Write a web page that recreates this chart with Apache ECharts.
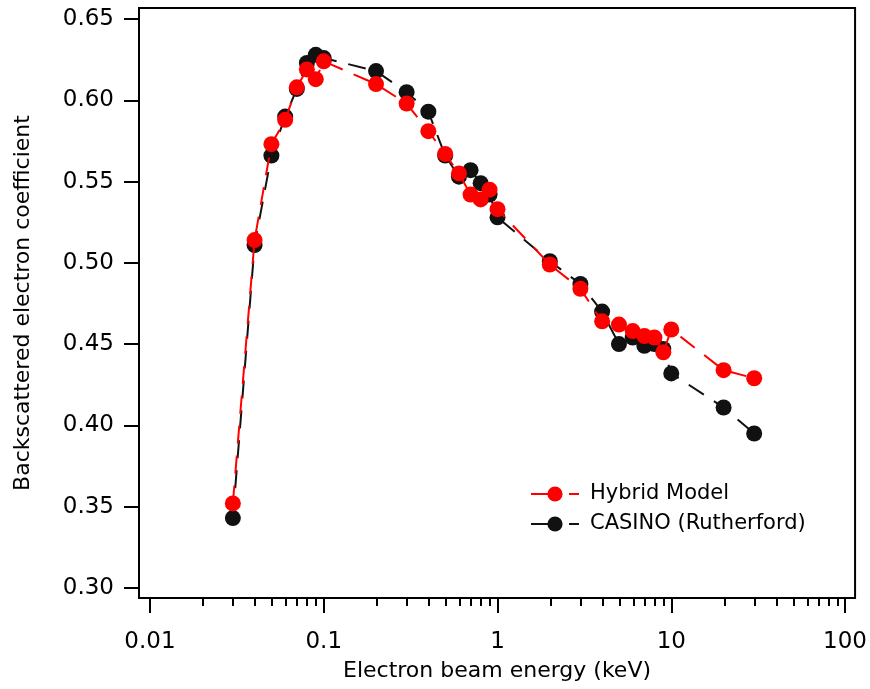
<!DOCTYPE html>
<html>
<head>
<meta charset="utf-8">
<script src="https://cdn.jsdelivr.net/npm/echarts@6/dist/echarts.min.js"></script>
<style>
  html, body { margin: 0; padding: 0; background: #fff; }
  #chart { width: 870px; height: 689px; }
</style>
</head>
<body>
<div id="chart"></div>
<script>
// Electron beam energies (keV)
const energies = [0.03, 0.04, 0.05, 0.06, 0.07, 0.08, 0.09, 0.1, 0.2, 0.3, 0.4, 0.5, 0.6, 0.7, 0.8, 0.9,
                  1, 2, 3, 4, 5, 6, 7, 8, 9, 10, 20, 30];

// Backscattered electron coefficient, hybrid model
const hybridModel = [0.352, 0.514, 0.573, 0.588, 0.608, 0.619, 0.613, 0.624, 0.610, 0.598, 0.581, 0.567,
                     0.555, 0.542, 0.539, 0.545, 0.533, 0.499, 0.484, 0.464, 0.462, 0.458, 0.455, 0.454,
                     0.445, 0.459, 0.434, 0.429];

// Backscattered electron coefficient, CASINO with Rutherford cross sections
const casinoRutherford = [0.343, 0.511, 0.566, 0.590, 0.607, 0.623, 0.628, 0.626, 0.618, 0.605, 0.593, 0.566,
                          0.553, 0.557, 0.549, 0.542, 0.528, 0.501, 0.487, 0.470, 0.450, 0.454, 0.449, 0.450,
                          0.447, 0.432, 0.411, 0.395];

// Axis ticks
const xMajorTicks = [0.01, 0.1, 1, 10, 100];
const xMinorTicks = [0.02, 0.03, 0.04, 0.05, 0.06, 0.07, 0.08, 0.09,
                     0.2, 0.3, 0.4, 0.5, 0.6, 0.7, 0.8, 0.9,
                     2, 3, 4, 5, 6, 7, 8, 9,
                     20, 30, 40, 50, 60, 70, 80, 90];
const yTicks = [0.30, 0.35, 0.40, 0.45, 0.50, 0.55, 0.60, 0.65];

const X_MIN = 0.00865, X_MAX = 114.2;
const Y_MIN = 0.2938, Y_MAX = 0.6568;
const FONT = 'DejaVu Sans';

const chart = echarts.init(document.getElementById('chart'), null, { renderer: 'canvas' });

const gridBox = { left: 139, right: 14, top: 8, bottom: 91 };

const option = {
  animation: false,
  backgroundColor: '#fff',
  textStyle: { fontFamily: FONT, color: '#000' },
  grid: [
    Object.assign({ show: true, borderColor: '#000', borderWidth: 2, backgroundColor: 'transparent', containLabel: false }, gridBox),
    Object.assign({ show: false, containLabel: false }, gridBox)
  ],
  legend: {
    orient: 'vertical',
    left: 525,
    top: 478,
    itemWidth: 48,
    itemHeight: 19,
    itemGap: 8,
    data: ['Hybrid Model', 'CASINO (Rutherford)'],
    // legend key: line, marker, short dash
    lineStyle: { type: [31, 7, 12, 2] },
    textStyle: { fontFamily: FONT, fontSize: 21, color: '#000', lineHeight: 22, padding: [0, 0, 0, 6] }
  },
  xAxis: [
    {
      type: 'log',
      gridIndex: 0,
      min: X_MIN,
      max: X_MAX,
      name: 'Electron beam energy (keV)',
      nameLocation: 'middle',
      nameGap: 62,
      nameTextStyle: { fontFamily: FONT, fontSize: 22, color: '#000' },
      axisLine: { show: true, onZero: false, lineStyle: { color: '#000', width: 2 } },
      axisTick: { show: true, inside: false, length: 15, customValues: xMajorTicks, lineStyle: { color: '#000', width: 2 } },
      axisLabel: {
        show: true, margin: 33, customValues: xMajorTicks,
        fontFamily: FONT, fontSize: 23, color: '#000',
        formatter: v => String(+(+v).toPrecision(3))
      },
      splitLine: { show: false },
      minorTick: { show: false }
    },
    {
      type: 'log',
      gridIndex: 1,
      min: X_MIN,
      max: X_MAX,
      axisLine: { show: false, onZero: false },
      axisTick: { show: true, inside: false, length: 8, customValues: xMinorTicks, lineStyle: { color: '#000', width: 2 } },
      axisLabel: { show: false },
      splitLine: { show: false }
    }
  ],
  yAxis: [
    {
      type: 'value',
      gridIndex: 0,
      min: Y_MIN,
      max: Y_MAX,
      name: 'Backscattered electron coefficient',
      nameLocation: 'middle',
      nameGap: 105,
      nameTextStyle: { fontFamily: FONT, fontSize: 22, color: '#000' },
      axisLine: { show: true, onZero: false, lineStyle: { color: '#000', width: 2 } },
      axisTick: { show: true, inside: false, length: 15, customValues: yTicks, lineStyle: { color: '#000', width: 2 } },
      axisLabel: {
        show: true, margin: 25, customValues: yTicks,
        fontFamily: FONT, fontSize: 23, color: '#000',
        formatter: v => (+v).toFixed(2)
      },
      splitLine: { show: false }
    },
    {
      type: 'value',
      gridIndex: 1,
      min: Y_MIN,
      max: Y_MAX,
      show: false
    }
  ],
  series: [
    {
      name: 'CASINO (Rutherford)',
      type: 'line',
      xAxisIndex: 0,
      yAxisIndex: 0,
      data: energies.map((e, i) => [e, casinoRutherford[i]]),
      symbol: 'circle',
      symbolSize: 16,
      showAllSymbol: true,
      itemStyle: { color: '#111', borderWidth: 0 },
      lineStyle: { color: '#111', width: 2, type: [18, 12] },
      z: 2
    },
    {
      name: 'Hybrid Model',
      type: 'line',
      xAxisIndex: 0,
      yAxisIndex: 0,
      data: energies.map((e, i) => [e, hybridModel[i]]),
      symbol: 'circle',
      symbolSize: 16,
      showAllSymbol: true,
      itemStyle: { color: '#ff0000', borderWidth: 0 },
      lineStyle: { color: '#ff0000', width: 2, type: [18, 12] },
      z: 3
    }
  ]
};

chart.setOption(option);
</script>
</body>
</html>
